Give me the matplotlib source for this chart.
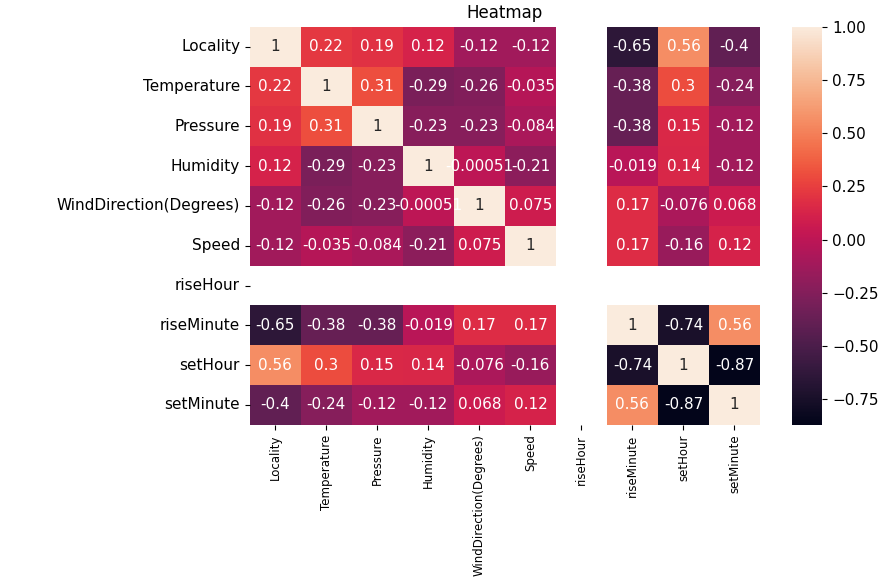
import numpy as np
import pandas as pd
import matplotlib
matplotlib.use("Agg")
import matplotlib.pyplot as plt
import seaborn as sns

nan = np.nan

columns = [
    "Locality", "Temperature", "Pressure", "Humidity",
    "WindDirection(Degrees)", "Speed", "riseHour",
    "riseMinute", "setHour", "setMinute",
]

locality = [1, 0.22, 0.19, 0.12, -0.12, -0.12, nan, -0.65, 0.56, -0.4]
temperature = [0.22, 1, 0.31, -0.29, -0.26, -0.035, nan, -0.38, 0.3, -0.24]
pressure = [0.19, 0.31, 1, -0.23, -0.23, -0.084, nan, -0.38, 0.15, -0.12]
humidity = [0.12, -0.29, -0.23, 1, -0.00051, -0.21, nan, -0.019, 0.14, -0.12]
wind_direction = [-0.12, -0.26, -0.23, -0.00051, 1, 0.075, nan, 0.17, -0.076, 0.068]
speed = [-0.12, -0.035, -0.084, -0.21, 0.075, 1, nan, 0.17, -0.16, 0.12]
rise_hour = [nan] * 10
rise_minute = [-0.65, -0.38, -0.38, -0.019, 0.17, 0.17, nan, 1, -0.74, 0.56]
set_hour = [0.56, 0.3, 0.15, 0.14, -0.076, -0.16, nan, -0.74, 1, -0.87]
set_minute = [-0.4, -0.24, -0.12, -0.12, 0.068, 0.12, nan, 0.56, -0.87, 1]

corr = pd.DataFrame(
    [locality, temperature, pressure, humidity, wind_direction,
     speed, rise_hour, rise_minute, set_hour, set_minute],
    index=columns, columns=columns,
)

fig = plt.figure(figsize=(8.92, 5.82), dpi=100)
ax = fig.add_axes([0.280, 0.270, 0.572, 0.684])
cax = fig.add_axes([0.888, 0.270, 0.034, 0.684])

sns.heatmap(corr, annot=True, ax=ax, cbar_ax=cax, annot_kws={"size": 11})

ax.set_title("Heatmap", fontsize=12)
ax.tick_params(axis="y", labelsize=11)
ax.tick_params(axis="x", labelsize=8.5)
plt.setp(ax.get_yticklabels(), rotation=0)
plt.setp(ax.get_xticklabels(), rotation=90)
cax.tick_params(labelsize=11)

fig.savefig("out.png")
